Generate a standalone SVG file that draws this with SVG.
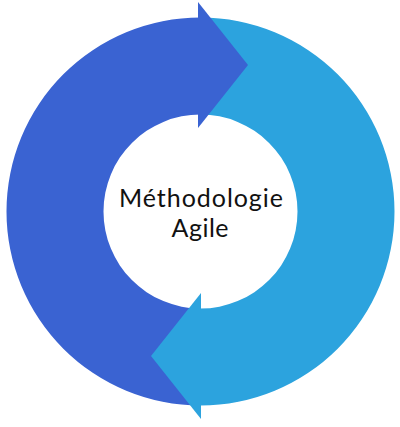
<svg xmlns="http://www.w3.org/2000/svg" width="400" height="427" viewBox="0 0 400 427">
  <style>
    .dark { fill: #3A63D2; }
    .light { fill: #2CA3DE; }
    .label { font-family: "Lato", "Open Sans", "Liberation Sans", sans-serif; font-size: 25px; fill: #111111; text-anchor: middle; }
  </style>
  <rect width="400" height="427" fill="#FFFFFF"/>
  <g id="connectors">
    <g id="arrow-right-half">
      <path class="light" d="M200.5,17.5 A194,194 0 0 1 200.5,405.5 L200.5,308.5 A97,97 0 0 0 200.5,114.5 Z"/>
    </g>
    <g id="arrow-left-half">
      <path class="dark" d="M200.5,17.5 A194,194 0 0 0 200.5,405.5 L200.5,308.5 A97,97 0 0 1 200.5,114.5 Z"/>
      <polygon class="dark" points="198,2 248,65 198,128"/>
    </g>
    <g id="arrow-right-head">
      <polygon class="light" points="201,293 151,356 201,419"/>
    </g>
  </g>
  <g id="center-node">
    <text class="label" x="201" y="207" textLength="164" lengthAdjust="spacing">Méthodologie</text>
    <text class="label" x="200" y="237" textLength="57" lengthAdjust="spacing">Agile</text>
  </g>
</svg>
